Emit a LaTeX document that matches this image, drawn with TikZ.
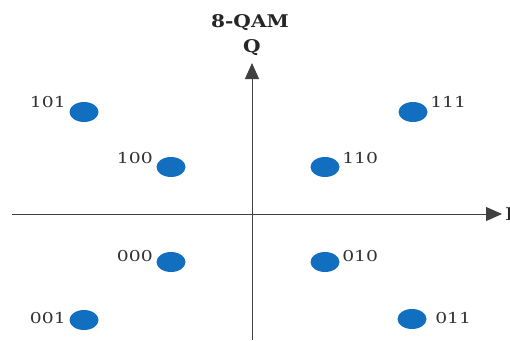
\documentclass[tikz,border=0pt]{standalone}
\usepackage{fontspec}
\setmainfont{DejaVu Serif}
\usetikzlibrary{arrows.meta,positioning,shapes.geometric}
\definecolor{qamblue}{RGB}{18,110,190}

\tikzset{
  point/.style={ellipse,fill=qamblue,minimum width=29pt,minimum height=20pt,inner sep=0pt},
  bits/.style={font=\fontsize{15}{17}\selectfont,text=black!80,inner sep=0pt,xscale=1.25,transform shape},
  heading/.style={font=\fontsize{17.5}{20}\selectfont\bfseries,text=black!85,inner sep=0pt,xscale=1.15,transform shape},
  axis/.style={draw=black!75,line width=1pt,-{Triangle[length=16pt,width=14pt]}}
}

\begin{document}
\begin{tikzpicture}[x=1pt,y=-1pt]

  \useasboundingbox (0,0) rectangle (510,340);

  \coordinate (left) at (12,214);
  \coordinate (right) at (502,214);
  \coordinate (bottom) at (252,340);
  \coordinate (top) at (252,63);

  \draw[axis] (left) -- (right);
  \draw[axis] (bottom) -- (top);

  \node[heading] (title) at (250,23) {8-QAM};
  \node[heading] (qlabel) at (252,48) {Q};
  \node[heading,font=\fontsize{17.5}{20}\selectfont,anchor=west] (ilabel) at (505,214) {I};

  % outer ring
  \node[point] (p101) at (84,112) {};
  \node[point] (p111) at (413,112) {};
  \node[point] (p001) at (84,320) {};
  \node[point] (p011) at (412,319) {};

  % inner ring
  \node[point] (p100) at (171,167) {};
  \node[point] (p110) at (325,167) {};
  \node[point] (p000) at (171,262) {};
  \node[point] (p010) at (325,262) {};

  \node[bits,anchor=east] (l101) at (66,102) {101};
  \node[bits,anchor=west] (l111) at (430,102) {111};
  \node[bits,anchor=east] (l001) at (66,318) {001};
  \node[bits,anchor=west] (l011) at (435,318) {011};
  \node[bits,anchor=east] (l100) at (153,158) {100};
  \node[bits,anchor=west] (l110) at (342,158) {110};
  \node[bits,anchor=east] (l000) at (153,256) {000};
  \node[bits,anchor=west] (l010) at (342,256) {010};

\end{tikzpicture}
\end{document}
